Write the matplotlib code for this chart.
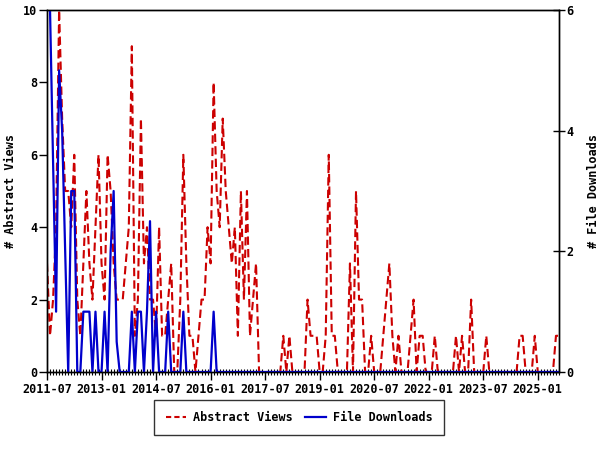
import numpy as np
import pandas as pd
import matplotlib
matplotlib.use('Agg')
import matplotlib.pyplot as plt
from matplotlib.lines import Line2D

months = pd.period_range('2011-07', periods=170, freq='M').strftime('%Y-%m').tolist()

abstract_views = [
    3, 1, 2, 4, 10, 7, 5, 5, 4, 6,
    2, 1, 3, 5, 3, 2, 4, 6, 3, 2,
    6, 5, 3, 2, 2, 2, 3, 4, 9, 1,
    2, 7, 3, 4, 2, 2, 1, 4, 1, 1,
    2, 3, 0, 0, 2, 6, 3, 1, 1, 0,
    1, 2, 2, 4, 3, 8, 5, 4, 7, 5,
    4, 3, 4, 1, 5, 2, 5, 1, 2, 3,
    0, 0, 0, 0, 0, 0, 0, 0, 1, 0,
    1, 0, 0, 0, 0, 0, 2, 1, 1, 1,
    0, 0, 1, 6, 1, 1, 0, 0, 0, 0,
    3, 0, 5, 2, 2, 0, 0, 1, 0, 0,
    0, 1, 2, 3, 1, 0, 1, 0, 0, 0,
    1, 2, 0, 1, 1, 0, 0, 0, 1, 0,
    0, 0, 0, 0, 0, 1, 0, 1, 0, 0,
    2, 0, 0, 0, 0, 1, 0, 0, 0, 0,
    0, 0, 0, 0, 0, 0, 1, 1, 0, 0,
    0, 1, 0, 0, 0, 0, 0, 0, 1, 1,
]

file_downloads = [
    6, 6, 3.5, 1, 5, 4, 2, 0, 3, 3,
    0, 0, 1, 1, 1, 0, 1, 0, 0, 1,
    0, 2, 3, 0.5, 0, 0, 0, 0, 1, 0,
    1, 1, 0, 1, 2.5, 0, 1, 0, 0, 0,
    1, 0, 0, 0, 0, 1, 0, 0, 0, 0,
    0, 0, 0, 0, 0, 1, 0, 0, 0, 0,
    0, 0, 0, 0, 0, 0, 0, 0, 0, 0,
    0, 0, 0, 0, 0, 0, 0, 0, 0, 0,
    0, 0, 0, 0, 0, 0, 0, 0, 0, 0,
    0, 0, 0, 0, 0, 0, 0, 0, 0, 0,
    0, 0, 0, 0, 0, 0, 0, 0, 0, 0,
    0, 0, 0, 0, 0, 0, 0, 0, 0, 0,
    0, 0, 0, 0, 0, 0, 0, 0, 0, 0,
    0, 0, 0, 0, 0, 0, 0, 0, 0, 0,
    0, 0, 0, 0, 0, 0, 0, 0, 0, 0,
    0, 0, 0, 0, 0, 0, 0, 0, 0, 0,
    0, 0, 0, 0, 0, 0, 0, 0, 0, 0,
]

tick_labels = ['2011-07', '2013-01', '2014-07', '2016-01', '2017-07',
               '2019-01', '2020-07', '2022-01', '2023-07', '2025-01']
left_ticks = [0, 2, 4, 6, 8, 10]
right_ticks = [0, 2, 4, 6]

RED = '#cc0000'
BLUE = '#0000cc'
font = dict(family='DejaVu Sans Mono', weight='bold', size=8.5)

fig = plt.figure(figsize=(6, 4.5), dpi=100)
ax = fig.add_axes([47/600, 1-372/450, (559-47)/600, (372-10)/450])
x = np.arange(len(months))
ax.plot(x, abstract_views, color=RED, lw=1.5, ls=(0, (4, 2)))
ax2 = ax.twinx()
ax2.plot(x, file_downloads, color=BLUE, lw=1.6)

ax.set_xlim(0, len(months) - 1)
ax.set_ylim(0, 10)
ax2.set_ylim(0, 6)
ax.set_yticks(left_ticks)
ax.set_yticklabels([str(t) for t in left_ticks], **font)
ax2.set_yticks(right_ticks)
ax2.set_yticklabels([str(t) for t in right_ticks], **font)
ax.set_xticks([months.index(t) for t in tick_labels])
ax.set_xticklabels(tick_labels, **font)
ax.set_xticks(x, minor=True)

ax.tick_params(axis='x', which='major', direction='out', length=6, width=1, pad=2)
ax.tick_params(axis='x', which='minor', direction='inout', length=4, width=0.8)
ax.tick_params(axis='y', direction='out', length=6, width=1, pad=1)
ax2.tick_params(axis='y', direction='inout', length=8, width=1, pad=1)

for a in (ax, ax2):
    for s in a.spines.values():
        s.set_linewidth(1)

ax.set_ylabel('# Abstract Views', **font)
ax.yaxis.set_label_coords((17-47)/512, 0.5)
ax2.set_ylabel('# File Downloads', **font)
ax2.yaxis.set_label_coords((587-47)/512, 0.5)

handles = [Line2D([], [], color=RED, lw=1.5, ls=(0, (2.5, 1.5))),
           Line2D([], [], color=BLUE, lw=1.6)]
leg = fig.legend(handles, ['Abstract Views', 'File Downloads'], loc='center',
                 bbox_to_anchor=(299/600, 1-417.5/450), ncol=2, frameon=True,
                 fancybox=False, edgecolor='black', prop=font,
                 handlelength=1.7, handletextpad=0.6, columnspacing=1.1,
                 borderpad=0.95, borderaxespad=0)
leg.get_frame().set_linewidth(1)

fig.savefig('out.png', dpi=100)
